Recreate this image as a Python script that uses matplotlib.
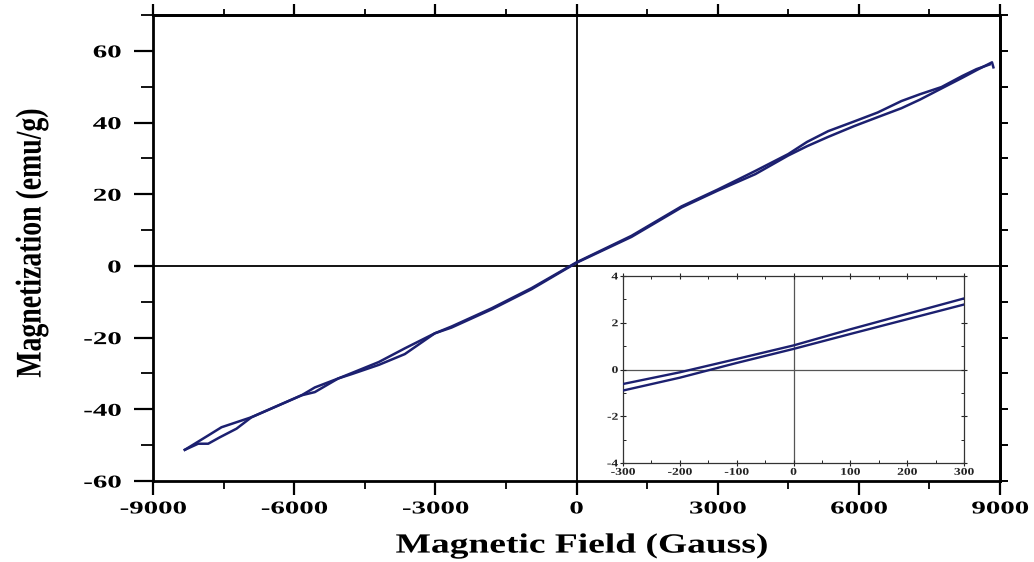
import matplotlib
matplotlib.use("Agg")
import matplotlib.pyplot as plt
from matplotlib.patheffects import AbstractPathEffect
from matplotlib.transforms import Affine2D
from matplotlib.ticker import MultipleLocator

# ---------------- data ----------------
desc_field = [8780, 8500, 8200, 7756, 7300, 6906, 6400, 5900, 5349, 4900, 4499, 3800,
              3000, 2231, 1169, 0, -956, -1800, -2656, -3011, -3649, -4200, -4781,
              -5064, -5561, -5844, -6906, -7544, -7827, -8324]
desc_mag = [56.2, 54.9, 53.0, 49.9, 47.9, 46.0, 42.8, 40.3, 37.6, 34.6, 31.2, 26.5,
            21.3, 16.6, 8.4, 1.0, -6.2, -11.8, -16.9, -18.8, -23.0, -26.8, -29.9,
            -31.4, -33.9, -36.1, -42.2, -45.0, -47.3, -51.3]

asc_field = [-8324, -8040, -7827, -7579, -7225, -6906, -5844, -5561, -5064, -4781,
             -4200, -3649, -3011, -2656, -1800, -956, 0, 1169, 2231, 3000, 3800, 4499,
             4900, 5349, 5900, 6400, 6906, 7300, 7756, 8200, 8500, 8830, 8860]
asc_mag = [-51.3, -49.6, -49.6, -47.8, -45.4, -42.2, -36.1, -35.2, -31.4, -30.2,
           -27.6, -24.6, -18.8, -17.2, -12.1, -6.5, 0.88, 8.1, 16.3, 21.0, 25.6, 30.8,
           33.4, 36.0, 39.0, 41.5, 44.0, 46.4, 49.5, 52.5, 54.6, 56.8, 55.4]

inset_field = [-300, -200, -100, 0, 100, 200, 300]
inset_upper = [-0.62, -0.12, 0.45, 1.03, 1.72, 2.38, 3.04]
inset_lower = [-0.90, -0.35, 0.28, 0.88, 1.52, 2.15, 2.78]

x_ticks = [-9000, -6000, -3000, 0, 3000, 6000, 9000]
y_ticks = [-60, -40, -20, 0, 20, 40, 60]
inset_x_ticks = [-300, -200, -100, 0, 100, 200, 300]
inset_y_ticks = [-4, -2, 0, 2, 4]

x_label = "Magnetic Field (Gauss)"
y_label = "Magnetization (emu/g)"

LINE = "#1c2070"


class Stretch(AbstractPathEffect):
    """Stretch glyph outlines in the text's own frame (sx along, sy across)."""
    def __init__(self, sx=1.0, sy=1.0, anchor="center"):
        super().__init__()
        self.sx, self.sy, self.anchor = sx, sy, anchor

    def draw_path(self, renderer, gc, tpath, affine, rgbFace=None):
        ext = tpath.get_extents()
        if self.anchor == "right":
            cx = ext.x1
        elif self.anchor == "left":
            cx = ext.x0
        else:
            cx = 0.5 * (ext.x0 + ext.x1)
        cy = 0.5 * (ext.y0 + ext.y1)
        pre = Affine2D().translate(-cx, -cy).scale(self.sx, self.sy).translate(cx, cy)
        renderer.draw_path(gc, tpath, pre + affine, rgbFace)


plt.rcParams["font.family"] = ["Liberation Serif", "DejaVu Serif"]
plt.rcParams["font.weight"] = "bold"
plt.rcParams["axes.unicode_minus"] = False

fig = plt.figure(figsize=(10.34, 5.62), dpi=100)
L, R, T, B = 153, 1000, 15, 481
ax = fig.add_axes([L / 1034, 1 - B / 562, (R - L) / 1034, (B - T) / 562])

ax.axhline(0, color="black", lw=1.3, zorder=1)
ax.axvline(0, color="black", lw=1.3, zorder=1)
ax.plot(desc_field, desc_mag, color=LINE, lw=1.8, zorder=3, solid_joinstyle="round")
ax.plot(asc_field, asc_mag, color=LINE, lw=1.8, zorder=3, solid_joinstyle="round")

ax.set_xlim(-9000, 9000)
ax.set_ylim(-60, 70)
ax.set_xticks(x_ticks)
ax.set_yticks(y_ticks)
ax.xaxis.set_minor_locator(MultipleLocator(1500))
ax.yaxis.set_minor_locator(MultipleLocator(10))
for s in ax.spines.values():
    s.set_linewidth(2.0)
ax.tick_params(axis="y", which="major", direction="out", length=14, width=1.6,
               labelsize=13, pad=9)
ax.tick_params(axis="y", which="minor", direction="out", length=9, width=1.3)
ax.tick_params(axis="x", which="major", direction="out", length=10, width=1.6,
               labelsize=13, pad=4)
ax.tick_params(axis="x", which="minor", direction="out", length=6, width=1.3)

# top / right ticks (shorter, no labels)
top = ax.secondary_xaxis("top")
top.set_xticks(x_ticks)
top.xaxis.set_minor_locator(MultipleLocator(1500))
top.tick_params(which="major", direction="out", length=8, width=1.6, labeltop=False)
top.tick_params(which="minor", direction="out", length=4, width=1.3)
top.spines["top"].set_linewidth(2.0)
right = ax.secondary_yaxis("right")
right.set_yticks(y_ticks)
right.yaxis.set_minor_locator(MultipleLocator(10))
right.tick_params(which="both", direction="out", length=6, width=1.4, labelright=False)
right.spines["right"].set_linewidth(2.0)

fig.canvas.draw()
for lab in ax.get_xticklabels():
    lab.set_fontweight("bold")
    lab.set_path_effects([Stretch(1.6, 1.0, "center")])
for lab in ax.get_yticklabels():
    lab.set_fontweight("bold")
    lab.set_path_effects([Stretch(1.6, 1.0, "right")])

fig.text(582 / 1034, 1 - 546 / 562, x_label, fontsize=20, fontweight="bold",
         ha="center", va="center", path_effects=[Stretch(1.35, 1.0, "center")])
fig.text(32 / 1034, 1 - 243 / 562, y_label, rotation=90, fontsize=20,
         fontweight="bold", ha="center", va="center",
         path_effects=[Stretch(1.0, 1.3, "center")])

# ---------------- inset ----------------
ins = fig.add_axes([623 / 1034, 1 - 463 / 562, (964 - 623) / 1034, (463 - 276) / 562])
ins.axhline(0, color="#555555", lw=0.9, zorder=1)
ins.axvline(0, color="#555555", lw=0.9, zorder=1)
ins.plot(inset_field, inset_upper, color=LINE, lw=1.7, zorder=3)
ins.plot(inset_field, inset_lower, color=LINE, lw=1.7, zorder=3)
ins.set_xlim(-300, 300)
ins.set_ylim(-4, 4)
ins.set_xticks(inset_x_ticks)
ins.set_yticks(inset_y_ticks)
ins.xaxis.set_minor_locator(MultipleLocator(50))
ins.yaxis.set_minor_locator(MultipleLocator(1))
for s in ins.spines.values():
    s.set_linewidth(0.9)
    s.set_color("#333333")
ins.tick_params(which="major", direction="inout", length=4, width=0.8,
                top=True, right=True, labelsize=7.5, pad=1.5, colors="#222222")
ins.tick_params(which="minor", direction="in", length=2, width=0.7,
                top=True, right=True, colors="#222222")
for lab in ins.get_xticklabels():
    lab.set_fontweight("bold")
    lab.set_path_effects([Stretch(1.3, 1.0, "center")])
for lab in ins.get_yticklabels():
    lab.set_fontweight("bold")
    lab.set_path_effects([Stretch(1.3, 1.0, "right")])

fig.savefig("out.png", dpi=100)
